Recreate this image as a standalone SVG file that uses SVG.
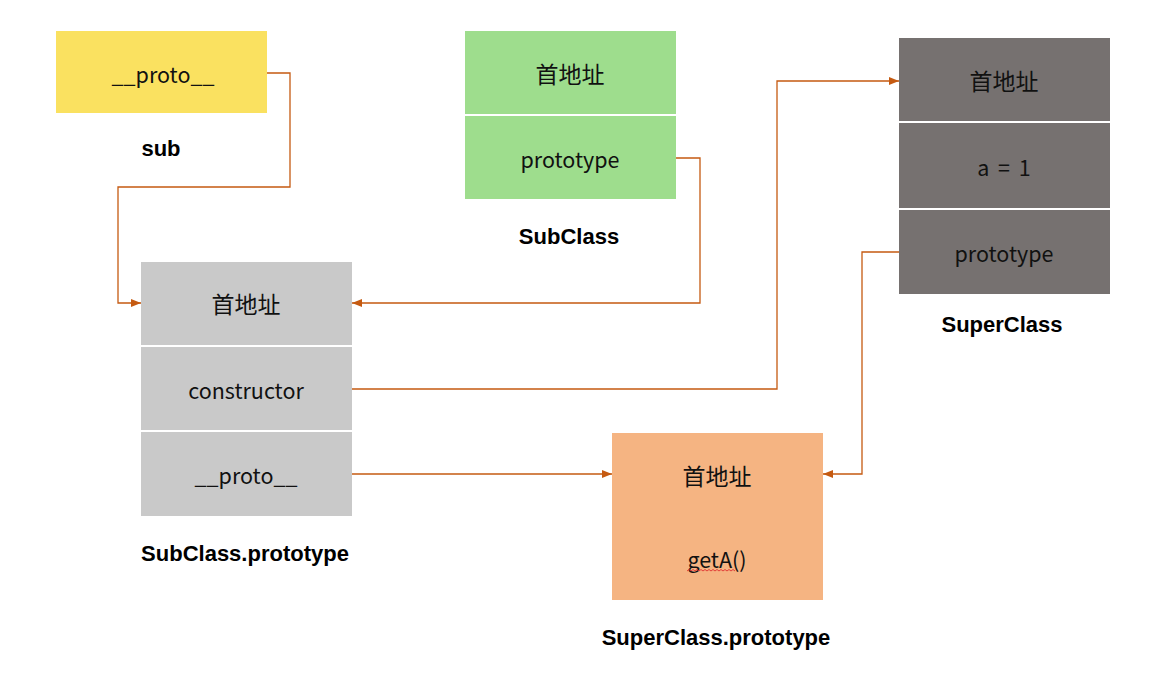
<svg xmlns="http://www.w3.org/2000/svg" width="1172" height="685" viewBox="0 0 1172 685">
<style>
.cell{font-family:"Noto Sans CJK SC","Liberation Sans",sans-serif;font-size:21.5px;fill:#111;text-anchor:middle;dominant-baseline:central}
.cjk{font-size:23px}
.lbl{font-family:"Liberation Sans","Noto Sans CJK SC",sans-serif;font-size:22px;font-weight:bold;fill:#000;text-anchor:middle;dominant-baseline:central}
.sep{stroke:#fff;stroke-width:2}
.conn{fill:none;stroke:#C55A11;stroke-width:1.3}
</style>
<defs>
<marker id="arr" viewBox="0 0 10 10" refX="10" refY="5" markerWidth="10" markerHeight="10" markerUnits="userSpaceOnUse" orient="auto">
<path d="M0,1 L10,5 L0,9 z" fill="#C55A11"/>
</marker>
</defs>
<rect width="1172" height="685" fill="#fff"/>

<g id="sub">
<rect x="56" y="31" width="211" height="82" fill="#FAE160"/>
<text class="cell" x="163" y="73">__proto__</text>
<text class="lbl" x="161" y="148">sub</text>
</g>

<g id="SubClass">
<rect x="465" y="31" width="211" height="168" fill="#9EDD8D"/>
<line class="sep" x1="465" y1="115" x2="676" y2="115"/>
<text class="cell cjk" x="570" y="73">首地址</text>
<text class="cell" x="570" y="158">prototype</text>
<text class="lbl" x="569" y="236">SubClass</text>
</g>

<g id="SubClassPrototype">
<rect x="141" y="262" width="211" height="254" fill="#C9C9C9"/>
<line class="sep" x1="141" y1="346" x2="352" y2="346"/>
<line class="sep" x1="141" y1="431" x2="352" y2="431"/>
<text class="cell cjk" x="246" y="303">首地址</text>
<text class="cell" x="246" y="389">constructor</text>
<text class="cell" x="246" y="474">__proto__</text>
<text class="lbl" x="245" y="553">SubClass.prototype</text>
</g>

<g id="SuperClass">
<rect x="899" y="38" width="211" height="256" fill="#767170"/>
<line class="sep" x1="899" y1="122" x2="1110" y2="122"/>
<line class="sep" x1="899" y1="209" x2="1110" y2="209"/>
<text class="cell cjk" x="1004" y="80">首地址</text>
<text class="cell" x="1004" y="166" style="word-spacing:4px">a = 1</text>
<text class="cell" x="1004" y="252">prototype</text>
<text class="lbl" x="1002" y="324">SuperClass</text>
</g>

<g id="SuperClassPrototype">
<rect x="612" y="433" width="211" height="167" fill="#F5B482"/>
<text class="cell cjk" x="717" y="475">首地址</text>
<text class="cell" x="717" y="558">getA()</text>
<path d="M687,571 l2,-1.5 l2,1.5 l2,-1.5 l2,1.5 l2,-1.5 l2,1.5 l2,-1.5 l2,1.5 l2,-1.5 l2,1.5 l2,-1.5 l2,1.5 l2,-1.5 l2,1.5 l2,-1.5 l2,1.5 l2,-1.5 l2,1.5 l2,-1.5 l2,1.5 l2,-1.5 l2,1.5 l2,-1.5 l2,1.5" fill="none" stroke="#E03030" stroke-width="0.9"/>
<text class="lbl" x="716" y="637">SuperClass.prototype</text>
</g>

<g id="connectors">
<polyline class="conn" points="267,73 290,73 290,187 118,187 118,303 141,303" marker-end="url(#arr)"/>
<polyline class="conn" points="676,158 700,158 700,303 352,303" marker-end="url(#arr)"/>
<polyline class="conn" points="352,389 777,389 777,81 899,81" marker-end="url(#arr)"/>
<polyline class="conn" points="352,474 612,474" marker-end="url(#arr)"/>
<polyline class="conn" points="899,252 862,252 862,474 823,474" marker-end="url(#arr)"/>
</g>
</svg>
